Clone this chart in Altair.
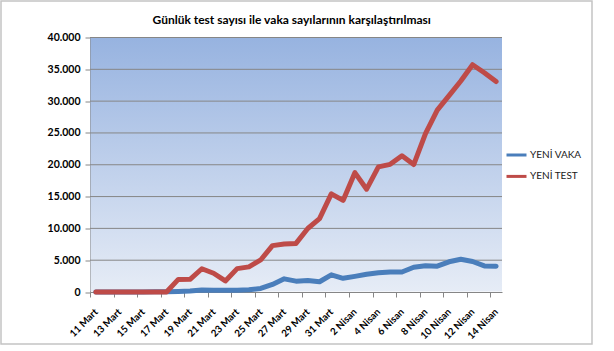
import altair as alt
import pandas as pd

# ---- data ----
tarihler = ["11 Mart", "12 Mart", "13 Mart", "14 Mart", "15 Mart", "16 Mart", "17 Mart",
            "18 Mart", "19 Mart", "20 Mart", "21 Mart", "22 Mart", "23 Mart", "24 Mart",
            "25 Mart", "26 Mart", "27 Mart", "28 Mart", "29 Mart", "30 Mart", "31 Mart",
            "1 Nisan", "2 Nisan", "3 Nisan", "4 Nisan", "5 Nisan", "6 Nisan", "7 Nisan",
            "8 Nisan", "9 Nisan", "10 Nisan", "11 Nisan", "12 Nisan", "13 Nisan", "14 Nisan"]
yeni_vaka = [1, 0, 4, 1, 12, 29, 51, 93, 168, 311, 277, 289, 293, 343, 561, 1196, 2069,
             1704, 1815, 1610, 2704, 2148, 2456, 2786, 3013, 3135, 3148, 3892, 4117, 4056,
             4747, 5138, 4789, 4093, 4062]
yeni_test = [0, 0, 0, 0, 0, 0, 0, 1981, 2000, 3656, 2952, 1738, 3672, 3952, 5035, 7286,
             7533, 7641, 9982, 11535, 15422, 14396, 18757, 16160, 19664, 20065, 21400,
             20023, 24900, 28578, 30864, 33170, 35720, 34456, 33070]
seriler = ["YENİ VAKA", "YENİ TEST"]
renkler = ["#4A7EBB", "#BE4B48"]
y_degerleri = [0, 5000, 10000, 15000, 20000, 25000, 30000, 35000, 40000]
baslik = "Günlük test sayısı ile vaka sayılarının karşılaştırılması"

W, H = 412, 254.5
FONT = "Lato"

df_vaka = pd.DataFrame({"sira": list(range(len(tarihler))), "tarih": tarihler,
                        "deger": yeni_vaka, "seri": seriler[0]})
df_test = pd.DataFrame({"sira": list(range(len(tarihler))), "tarih": tarihler,
                        "deger": yeni_test, "seri": seriler[1]})
df_izgara = pd.DataFrame({"deger": y_degerleri[1:]})
tek = pd.DataFrame({"k": [0]})

etiket_dizisi = "[" + ",".join("'" + t + "'" for t in tarihler) + "]"

xenc = alt.X(
    "sira:Q",
    scale=alt.Scale(domain=[-0.5, len(tarihler) - 0.5], nice=False, zero=False),
    axis=alt.Axis(
        values=[k - 0.5 for k in range(0, len(tarihler), 2)],
        labelExpr=etiket_dizisi + "[round(datum.value + 0.5)]",
        labelAngle=-45, labelAlign="right", labelBaseline="middle",
        labelOffset=5.9, labelPadding=13, tickSize=5,
        labelFlush=False, labelOverlap=False, labelBound=False,
        grid=False, title=None,
        domainColor="#868686", tickColor="#868686",
        labelFont=FONT, labelFontSize=9.8, labelFontWeight="bold", labelColor="black",
    ),
)
yenc = alt.Y(
    "deger:Q",
    scale=alt.Scale(domain=[0, 40000], nice=False),
    axis=alt.Axis(
        values=y_degerleri, labelExpr="replace(format(datum.value, ','), ',', '.')",
        grid=False, title=None, tickSize=5, labelPadding=5,
        domainColor="#868686", tickColor="#868686",
        labelFont=FONT, labelFontSize=10.5, labelFontWeight="bold", labelColor="black",
    ),
)
renk = alt.Color(
    "seri:N",
    scale=alt.Scale(domain=seriler, range=renkler),
    legend=alt.Legend(
        orient="none", legendX=415, legendY=106, title=None, padding=0,
        symbolType="stroke", symbolSize=400, symbolStrokeWidth=3,
        labelFont=FONT, labelFontSize=10, labelOffset=2, rowPadding=3.4,
        labelColor="#1a1a1a",
    ),
)

arka = alt.Chart(tek).mark_rect(
    fill={"gradient": "linear", "x1": 0, "y1": 0, "x2": 0, "y2": 1,
          "stops": [{"offset": 0, "color": "#97b3e0"}, {"offset": 1, "color": "#e6ecf6"}]}
).encode(x=alt.value(0.5), x2=alt.value(W), y=alt.value(0), y2=alt.value(H - 0.5))

izgara = alt.Chart(df_izgara).mark_rule(color="#868686", strokeWidth=1).encode(y=yenc)

cizgi_ayar = dict(strokeWidth=5, strokeCap="round", strokeJoin="round")
vaka = alt.Chart(df_vaka).mark_line(**cizgi_ayar).encode(x=xenc, y=yenc, color=renk)
test = alt.Chart(df_test).mark_line(**cizgi_ayar).encode(x=xenc, y=yenc, color=renk)

baslik_yazi = alt.Chart(tek).mark_text(
    text=baslik, font=FONT, fontSize=12, fontWeight="bold", align="center",
    baseline="middle", color="black"
).encode(x=alt.value(201.7), y=alt.value(-18))

cerceve = alt.Chart(tek).mark_rect(
    fillOpacity=0, stroke="#c4c4c4", strokeWidth=1.5
).encode(x=alt.value(-89), x2=alt.value(502), y=alt.value(-36.5), y2=alt.value(306.5))

chart = alt.layer(arka, izgara, vaka, test, baslik_yazi, cerceve).properties(
    width=W, height=H,
    padding={"left": 90, "top": 37.5, "right": 112, "bottom": 59},
    autosize=alt.AutoSizeParams(type="none"),
    background="white",
).configure_view(strokeWidth=0)

chart.save("out.html", embed_options={"renderer": "svg", "actions": False})
